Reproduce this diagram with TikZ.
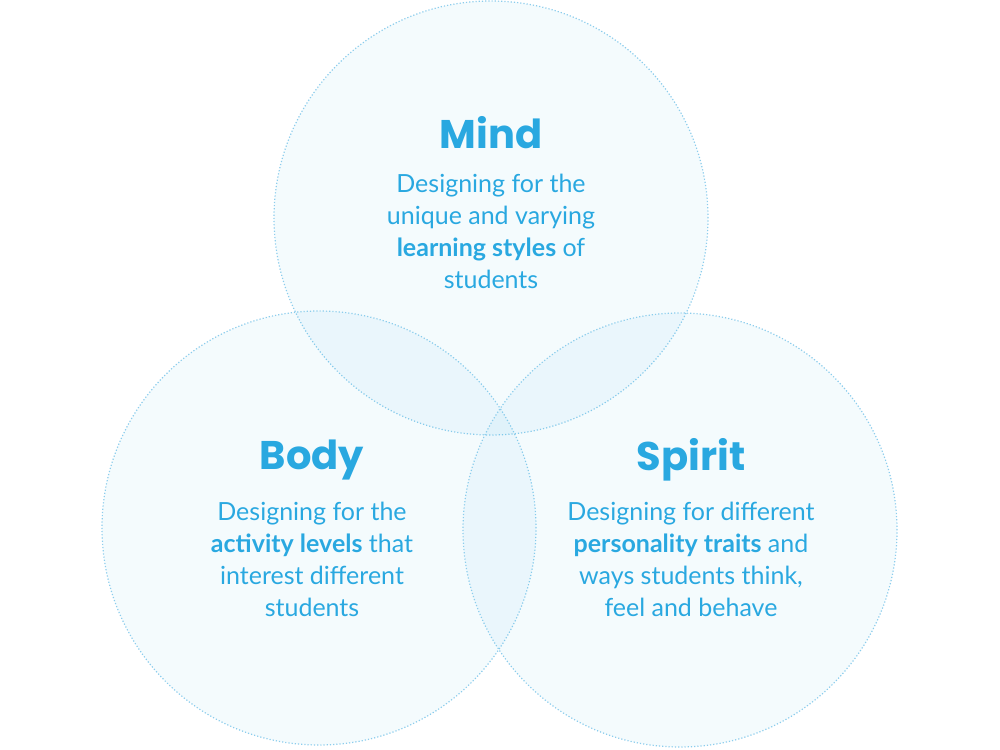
\documentclass[tikz,border=0pt]{standalone}
\usepackage{fontspec}
\setmainfont{Lato}
\newfontfamily\titlefont{Poppins}
\definecolor{vb}{RGB}{41,168,224}
\definecolor{vline}{RGB}{140,205,236}
\begin{document}
\begin{tikzpicture}[x=1pt,y=-1pt]
\useasboundingbox (0,0) rectangle (1000,749);
\tikzset{
  venn/.style={circle,minimum size=434pt,inner sep=0pt,draw=vline,dotted,line width=1.2pt,fill=vb,fill opacity=0.05,draw opacity=1},
  ttl/.style={text=vb,font=\titlefont\fontsize{40}{40}\selectfont\bfseries},
  txt/.style={text=vb,align=center,font=\fontsize{25}{32}\selectfont}
}
\node[venn] (mind) at (491,218) {};
\node[venn] (body) at (319,528) {};
\node[venn] (spirit) at (680,530) {};
\node[ttl] (tm) at (491,133) {Mind};
\node[txt] (dm) at (491,231) {Designing for the\\unique and varying\\\textbf{learning styles} of\\students};
\node[ttl] (tb) at (312,460) {Body};
\node[txt] (db) at (312,559) {Designing for the\\\textbf{activity levels} that\\interest different\\students};
\node[ttl] (ts) at (691,460) {Spirit};
\node[txt] (ds) at (691,559) {Designing for different\\\textbf{personality traits} and\\ways students think,\\feel and behave};
\end{tikzpicture}
\end{document}
